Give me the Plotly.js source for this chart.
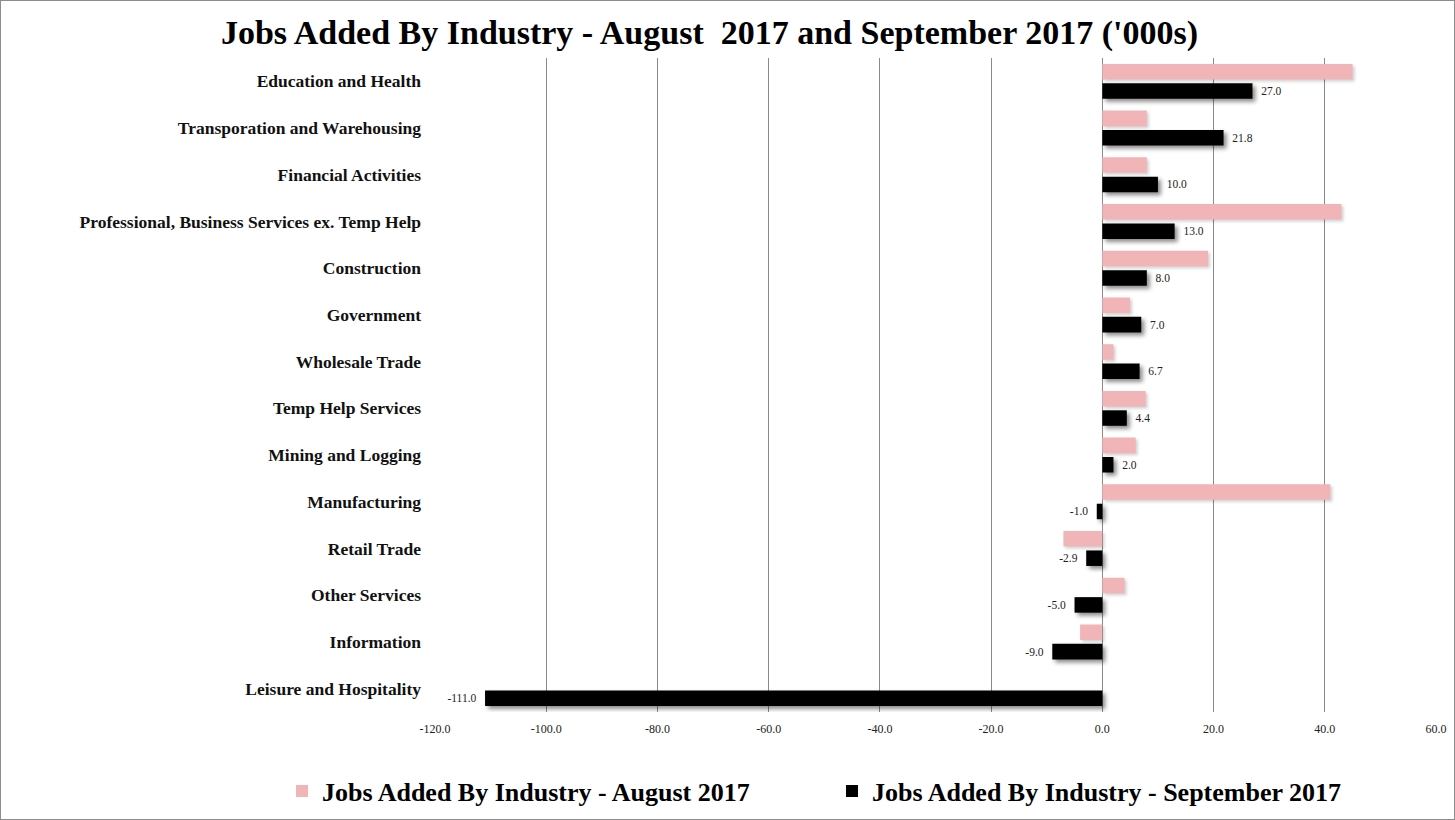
<!DOCTYPE html>
<html>
<head>
<meta charset="utf-8">
<script src="https://cdn.plot.ly/plotly-3.0.1.min.js"></script>
<style>
  html, body { margin: 0; padding: 0; background: #fff; }
  #wrap { position: relative; width: 1455px; height: 820px; }
  #chart { width: 1455px; height: 820px; }
  #frame { position: absolute; left: 0; top: 0; width: 1455px; height: 820px; box-sizing: border-box; border: 1px solid #8c8c8c; pointer-events: none; }
  .barlayer .trace:nth-child(1) .point path { filter: drop-shadow(2px 2px 1.5px rgba(0,0,0,0.18)); }
  .barlayer .trace:nth-child(2) .point path { filter: drop-shadow(3px 3px 2px rgba(0,0,0,0.45)); }
</style>
</head>
<body>
<div id="wrap">
  <div id="chart"></div>
  <div id="frame"></div>
</div>
<script>
var categories = [
  "Education and Health",
  "Transporation and Warehousing",
  "Financial Activities",
  "Professional, Business Services ex. Temp Help",
  "Construction",
  "Government",
  "Wholesale Trade",
  "Temp Help Services",
  "Mining and Logging",
  "Manufacturing",
  "Retail Trade",
  "Other Services",
  "Information",
  "Leisure and Hospitality"
];
var august2017 = [45.0, 8.0, 8.0, 43.0, 19.0, 5.0, 2.0, 7.8, 6.0, 41.0, -7.0, 4.0, -4.0, 0.0];
var september2017 = [27.0, 21.8, 10.0, 13.0, 8.0, 7.0, 6.7, 4.4, 2.0, -1.0, -2.9, -5.0, -9.0, -111.0];
var tickValues = [-120, -100, -80, -60, -40, -20, 0, 20, 40, 60];
var tickLabels = ["-120.0", "-100.0", "-80.0", "-60.0", "-40.0", "-20.0", "0.0", "20.0", "40.0", "60.0"];
var augName = "Jobs Added By Industry - August 2017";
var sepName = "Jobs Added By Industry - September 2017";
var titleText = "Jobs Added By Industry - August\u00a0 2017 and September 2017 ('000s)";

var serif = "'Liberation Serif', 'DejaVu Serif', serif";

var sepText = september2017.map(function (v) {
  var s = v.toFixed(1);
  return v >= 0 ? "\u00a0\u00a0" + s : s + "\u00a0\u00a0";
});

var traces = [
  {
    type: "bar",
    orientation: "h",
    name: augName,
    legend: "legend",
    y: categories,
    x: august2017,
    marker: { color: "#f2b5b7" },
    hoverinfo: "x+y"
  },
  {
    type: "bar",
    orientation: "h",
    name: sepName,
    legend: "legend2",
    y: categories,
    x: september2017,
    marker: { color: "#000000" },
    text: sepText,
    textposition: "outside",
    cliponaxis: false,
    textfont: { family: serif, size: 11.5, color: "#222" },
    hoverinfo: "x+y"
  }
];

var legendFont = { family: serif, size: 26, color: "#000", weight: "bold" };

var layout = {
  width: 1455,
  height: 820,
  paper_bgcolor: "#ffffff",
  plot_bgcolor: "#ffffff",
  margin: { l: 435, r: 19, t: 58, b: 108, autoexpand: false },
  barmode: "group",
  bargap: 0.17,
  bargroupgap: 0.2,
  title: {
    text: titleText,
    font: { family: serif, size: 34, color: "#000", weight: "bold" },
    xref: "container",
    yref: "container",
    x: 0.4876,
    xanchor: "center",
    y: 0.961,
    yanchor: "middle"
  },
  xaxis: {
    range: [-120, 60],
    tickvals: tickValues,
    ticktext: tickLabels,
    showgrid: true,
    gridcolor: "#8a8a8a",
    gridwidth: 1,
    zeroline: true,
    zerolinecolor: "#8a8a8a",
    zerolinewidth: 1,
    showline: false,
    ticks: "outside",
    ticklen: 6,
    tickcolor: "rgba(0,0,0,0)",
    tickfont: { family: serif, size: 12, color: "#222" },
    fixedrange: true
  },
  yaxis: {
    type: "category",
    categoryorder: "array",
    categoryarray: categories,
    autorange: "reversed",
    showgrid: false,
    zeroline: false,
    showline: false,
    ticks: "",
    ticklabelstandoff: 13,
    tickfont: { family: serif, size: 17.5, color: "#111", weight: "bold" },
    fixedrange: true
  },
  showlegend: true,
  legend: {
    orientation: "h",
    xref: "container",
    yref: "container",
    x: 282 / 1455,
    xanchor: "left",
    y: 1 - 791 / 820,
    yanchor: "middle",
    font: legendFont,
    bgcolor: "rgba(0,0,0,0)"
  },
  legend2: {
    orientation: "h",
    xref: "container",
    yref: "container",
    x: 832 / 1455,
    xanchor: "left",
    y: 1 - 791 / 820,
    yanchor: "middle",
    font: legendFont,
    bgcolor: "rgba(0,0,0,0)"
  }
};

Plotly.newPlot("chart", traces, layout, { displayModeBar: false, staticPlot: true });
</script>
</body>
</html>
